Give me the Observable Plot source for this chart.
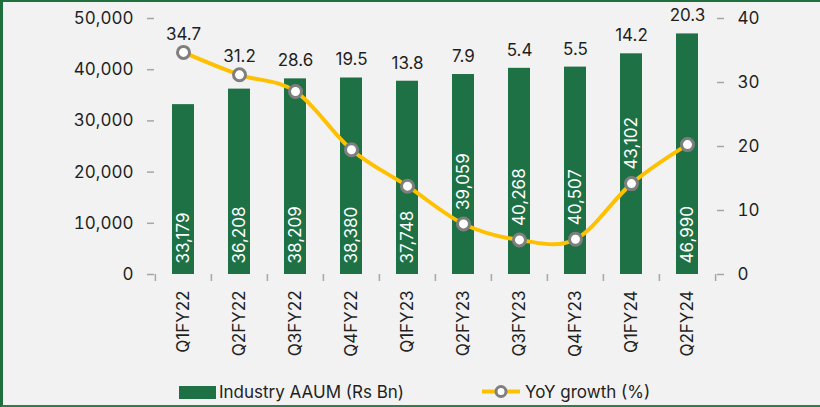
<!DOCTYPE html>
<html>
<head>
<meta charset="utf-8">
<script src="https://cdn.jsdelivr.net/npm/d3@7"></script>
<script src="https://cdn.jsdelivr.net/npm/@observablehq/plot@0.6"></script>
<style>
  html, body { margin: 0; padding: 0; background: #f2f2f2; }
  #wrap { position: relative; width: 820px; height: 407px; background: #f2f2f2; overflow: hidden; font-family: Inter, "Open Sans", sans-serif; }
  #border { position: absolute; left: 0; top: 0; width: 820px; height: 407px; box-sizing: border-box;
            border-top: 2px solid #1e6e3e; border-left: 3px solid #1e6e3e; border-bottom: 2px solid #2e7d4f; pointer-events: none; }
  #legend { position: relative; width: 820px; height: 39px; }
  #legend svg { display: block; }
</style>
</head>
<body>
<div id="wrap">
  <div id="chart"></div>
  <div id="legend"></div>
  <div id="border"></div>
</div>
<script>
// ---- data ----
const quarters = ["Q1FY22", "Q2FY22", "Q3FY22", "Q4FY22", "Q1FY23", "Q2FY23", "Q3FY23", "Q4FY23", "Q1FY24", "Q2FY24"];
const aaum = [33179, 36208, 38209, 38380, 37748, 39059, 40268, 40507, 43102, 46990];
const yoyGrowth = [34.7, 31.2, 28.6, 19.5, 13.8, 7.9, 5.4, 5.5, 14.2, 20.3];
const leftTicks = [0, 10000, 20000, 30000, 40000, 50000];
const rightTicks = [0, 10, 20, 30, 40];
const seriesNames = ["Industry AAUM (Rs Bn)", "YoY growth (%)"];

// ---- layout ----
const W = 820, H = 368;
const mL = 154, mR = 104, mT = 18, mB = H - 274;
const leftMax = 50000, rightMax = 40;
const k = leftMax / rightMax;                 // maps right-axis units into left-axis units
const pxPerUnit = (H - mT - mB) / leftMax;
const step = (W - mL - mR) / quarters.length;
const barGreen = "#1e7145", lineYellow = "#FFC000", axisGrey = "#a6a6a6", textCol = "#1f1f1f";
const font = "Inter, 'Open Sans', sans-serif";

const rows = quarters.map((q, i) => ({ q, aaum: aaum[i], yoy: yoyGrowth[i] }));
const raised = d => d.yoy * k < 0.45 * d.aaum;   // move value label above the line marker when the line runs low in the bar
const fmt = d3.format(",");

const chart = Plot.plot({
  width: W, height: H,
  marginLeft: mL, marginRight: mR, marginTop: mT, marginBottom: mB,
  style: { background: "transparent", fontFamily: font, fontSize: "17px", color: textCol, overflow: "visible" },
  x: { domain: quarters, paddingInner: 0.6, paddingOuter: 0.3, axis: null },
  y: { domain: [0, leftMax], axis: null },
  marks: [
    Plot.barY(rows, { x: "q", y: "aaum", fill: barGreen }),
    Plot.axisY({ ticks: leftTicks, tickFormat: fmt, tickSize: 7, tickPadding: 14, stroke: axisGrey, strokeWidth: 1.5, fill: textCol, line: true, label: null }),
    Plot.axisY({ anchor: "right", ticks: rightTicks.map(v => v * k), tickFormat: d => String(Math.round(d / k)), tickSize: 7, tickPadding: 14, stroke: axisGrey, strokeWidth: 1.5, fill: textCol, line: true, label: null }),
    Plot.axisX({ tickSize: 0, tickPadding: 16, tickRotate: -90, stroke: axisGrey, strokeWidth: 1.5, fill: textCol, line: true, label: null }),
    Plot.ruleX(quarters, { x: d => d, dx: -step / 2, y1: 0, y2: -7 / pxPerUnit, stroke: axisGrey, strokeWidth: 1.5 }),
    Plot.ruleX(quarters.slice(-1), { x: d => d, dx: step / 2, y1: 0, y2: -7 / pxPerUnit, stroke: axisGrey, strokeWidth: 1.5 }),
    Plot.text(rows.filter(d => !raised(d)), { x: "q", y: 0, text: d => fmt(d.aaum), rotate: -90, textAnchor: "start", dy: -11, fill: "white", fontSize: 17 }),
    Plot.text(rows.filter(raised), { x: "q", y: d => d.yoy * k, text: d => fmt(d.aaum), rotate: -90, textAnchor: "start", dy: -14, fill: "white", fontSize: 17 }),
    Plot.line(rows, { x: "q", y: d => d.yoy * k, stroke: lineYellow, strokeWidth: 4, curve: "cardinal" }),
    Plot.dot(rows, { x: "q", y: d => d.yoy * k, r: 6, fill: "white", stroke: "#7f7f7f", strokeWidth: 3 }),
    Plot.text(rows, { x: "q", y: d => Math.max(d.yoy * k, d.aaum), text: d => d.yoy.toFixed(1), dy: -18, fill: textCol, fontSize: 17 })
  ]
});
document.getElementById("chart").appendChild(chart);

// ---- legend ----
const lg = d3.select("#legend").append("svg").attr("width", W).attr("height", 39);
lg.append("rect").attr("x", 179).attr("y", 18).attr("width", 37).attr("height", 13).attr("fill", barGreen);
lg.append("text").attr("x", 219).attr("y", 30).attr("font-size", 17).attr("fill", textCol)
  .attr("font-family", font).text(seriesNames[0]);
lg.append("line").attr("x1", 482).attr("x2", 520).attr("y1", 23.5).attr("y2", 23.5).attr("stroke", lineYellow).attr("stroke-width", 4);
lg.append("circle").attr("cx", 501).attr("cy", 23.5).attr("r", 5).attr("fill", "white").attr("stroke", "#7f7f7f").attr("stroke-width", 3);
lg.append("text").attr("x", 525).attr("y", 30).attr("font-size", 17).attr("fill", textCol)
  .attr("font-family", font).text(seriesNames[1]);
</script>
</body>
</html>
